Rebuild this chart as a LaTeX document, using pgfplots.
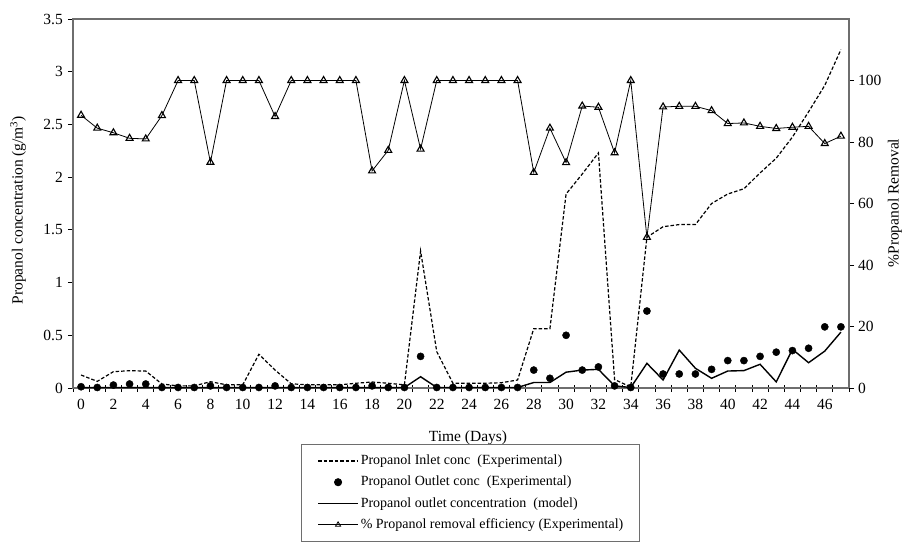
\documentclass[border=0pt]{standalone}
\usepackage{fontspec}
\setmainfont{Liberation Serif}
\usepackage{pgfplots}
\pgfplotsset{compat=1.18}
\definecolor{axgray}{RGB}{110,110,110}

\pgfplotstableread{
day inlet outlet model
0 0.123 0.012 0.003
1 0.063 0.005 0.003
2 0.155 0.028 0.003
3 0.164 0.038 0.003
4 0.161 0.038 0.003
5 0.038 0.005 0.003
6 0.020 0.005 0.003
7 0.020 0.005 0.003
8 0.060 0.020 0.003
9 0.030 0.005 0.003
10 0.030 0.005 0.003
11 0.320 0.005 0.003
12 0.170 0.020 0.003
13 0.040 0.005 0.003
14 0.030 0.005 0.003
15 0.030 0.005 0.003
16 0.030 0.005 0.003
17 0.045 0.005 0.003
18 0.057 0.020 0.003
19 0.045 0.005 0.003
20 0.030 0.005 0.005
21 1.300 0.300 0.107
22 0.345 0.005 0.005
23 0.045 0.005 0.005
24 0.045 0.005 0.005
25 0.045 0.005 0.005
26 0.050 0.005 0.005
27 0.076 0.005 0.005
28 0.563 0.170 0.052
29 0.563 0.092 0.052
30 1.840 0.500 0.150
31 2.030 0.170 0.170
32 2.230 0.200 0.177
33 0.080 0.020 0.020
34 0.010 0.005 0.005
35 1.430 0.730 0.234
36 1.530 0.133 0.076
37 1.550 0.133 0.360
38 1.550 0.133 0.187
39 1.750 0.177 0.092
40 1.840 0.260 0.161
41 1.890 0.260 0.165
42 2.040 0.300 0.225
43 2.180 0.340 0.058
44 2.380 0.355 0.367
45 2.620 0.377 0.240
46 2.870 0.580 0.350
47 3.210 0.580 0.530
}\conc

\pgfplotstableread{
day removal
0 88.7
1 84.5
2 83.0
3 81.2
4 81.0
5 88.6
6 100
7 100
8 73.4
9 100
10 100
11 100
12 88.3
13 100
14 100
15 100
16 100
17 100
18 70.6
19 77.3
20 100
21 77.7
22 100
23 100
24 100
25 100
26 100
27 100
28 70.1
29 84.5
30 73.3
31 91.7
32 91.3
33 76.5
34 100
35 49.0
36 91.4
37 91.6
38 91.6
39 90.2
40 86.0
41 86.2
42 85.1
43 84.4
44 84.8
45 85.1
46 79.5
47 81.9
}\removal

\begin{document}
\begin{tikzpicture}[x=1pt,y=1pt]
\path[use as bounding box] (-73,-154) rectangle (829,388);
\begin{axis}[
  at={(0,0)}, anchor=south west,
  scale only axis, width=776pt, height=369pt,
  xmin=-0.5, xmax=47.5, ymin=0, ymax=3.5,
  axis line style={axgray, line width=1.2pt},
  xtick={0,2,...,46},
  minor xtick={-0.5,0.5,...,47.5},
  xtick pos=bottom, ytick pos=left,
  major x tick style={draw=none},
  minor x tick style={black, line width=0.8pt, yshift=3.5pt},
  minor tick length=7pt,
  major tick length=5pt,
  tick align=outside,
  ytick={0,0.5,...,3.5},
  yticklabels={0,0.5,1,1.5,2,2.5,3,3.5},
  y tick style={black, line width=0.8pt},
  /pgf/number format/assume math mode=true,
  tick label style={font=\fontsize{15.5}{18}\selectfont},
  yticklabel style={inner sep=0pt, xshift=-5pt},
  xticklabel style={inner sep=0pt, yshift=-6pt},
  xlabel={Time (Days)},
  ylabel={Propanol concentration (g/m\textsuperscript{3})},
  every axis x label/.style={at={(axis description cs:0.509,-0.1355)}, anchor=center, font=\fontsize{15.5}{18}\selectfont},
  every axis y label/.style={at={(axis description cs:-0.0709,0.482)}, anchor=center, rotate=90, font=\fontsize{15.5}{18}\selectfont},
  legend cell align=left,
  legend image code/.code={\draw[mark repeat=2,mark phase=2,#1] plot coordinates {(0pt,0pt)(20pt,0pt)(40pt,0pt)};},
  legend style={at={(axis description cs:0.2938,-0.1518)}, anchor=north west,
    draw=axgray, line width=0.8pt, font=\fontsize{14}{16}\selectfont,
    inner xsep=16pt, inner ysep=9pt, row sep=6.3pt, column sep=2pt,
    nodes={inner sep=0pt, text height=11pt, text depth=4pt}},
]
\addplot[black, line width=1.2pt, dash pattern=on 3.5pt off 2pt] table[x=day,y=inlet] {\conc};
\addlegendentry{Propanol Inlet conc\ \ (Experimental)}
\addplot[only marks, mark=*, mark size=3.6pt, black] table[x=day,y=outlet] {\conc};
\addlegendentry{Propanol Outlet conc\ \ (Experimental)}
\addplot[black, line width=1.4pt] table[x=day,y=model] {\conc};
\addlegendentry{Propanol outlet concentration\ \ (model)}
\addlegendimage{black, line width=0.8pt, mark=triangle, mark size=3pt, mark options={fill=white, line width=0.8pt}}
\addlegendentry{\% Propanol removal efficiency (Experimental)}
\end{axis}
\begin{axis}[
  at={(0,0)}, anchor=south west,
  scale only axis, width=776pt, height=369pt,
  xmin=-0.5, xmax=47.5, ymin=0, ymax=120,
  axis x line=none,
  axis y line*=right,
  axis line style={axgray, line width=1.2pt},
  ytick={0,20,...,100},
  tick align=outside,
  major tick length=5pt,
  y tick style={black, line width=0.8pt},
  /pgf/number format/assume math mode=true,
  tick label style={font=\fontsize{15.5}{18}\selectfont},
  yticklabel style={inner sep=0pt, xshift=4pt},
  ylabel={\%Propanol Removal},
  every axis y label/.style={at={(axis description cs:1.0593,0.501)}, anchor=center, rotate=90, font=\fontsize{15.5}{18}\selectfont},
]
\addplot[black, line width=0.8pt, mark=triangle, mark size=4pt, mark options={fill=white, line width=1.1pt}] table[x=day,y=removal] {\removal};
\end{axis}
\end{tikzpicture}
\end{document}
